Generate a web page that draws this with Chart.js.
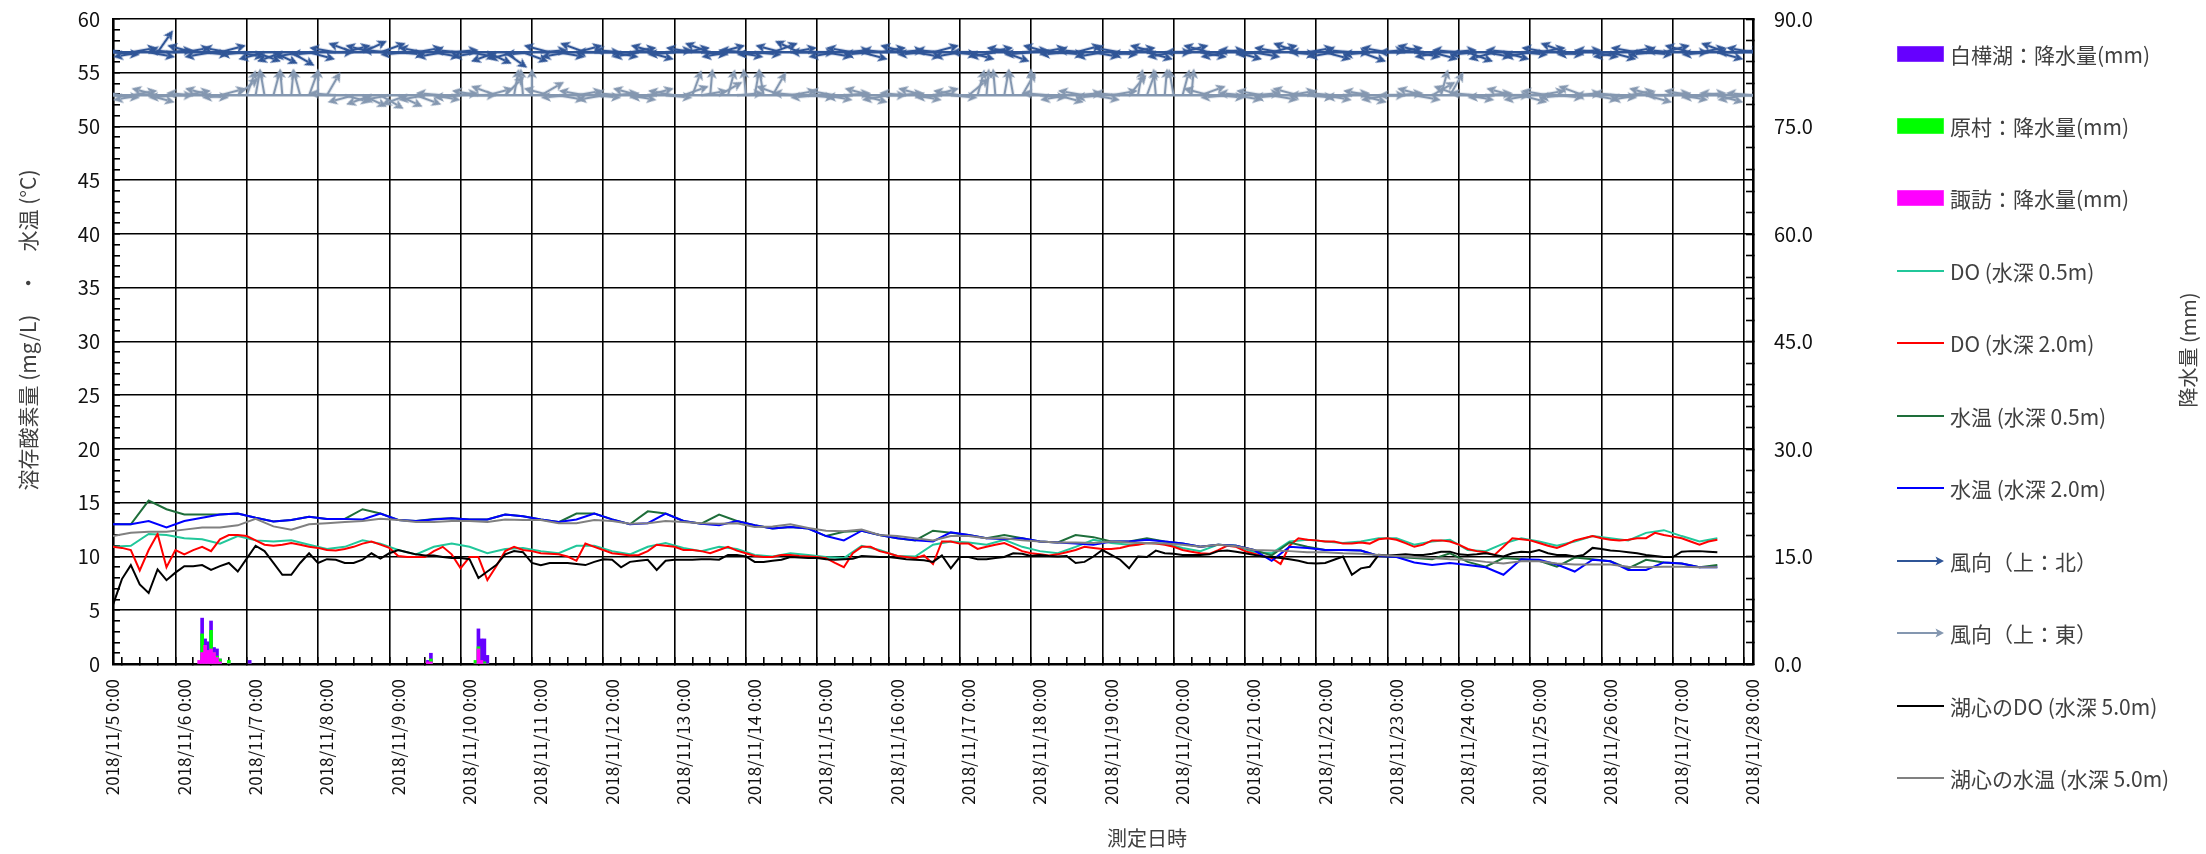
<!DOCTYPE html>
<html lang="ja">
<head>
<meta charset="utf-8">
<script src="https://cdn.jsdelivr.net/npm/chart.js@4.4.1/dist/chart.umd.min.js"></script>
<style>
  html, body { margin: 0; padding: 0; background: #fff; }
  #wrap { position: relative; width: 2206px; height: 854px; }
  #legend { position: absolute; left: 1897px; top: 0; font-family: "Noto Sans CJK JP", sans-serif; font-size: 21px; color: #404040; }
  .item { position: absolute; left: 0; height: 30px; display: flex; align-items: center; white-space: nowrap; }
  .item svg { margin-right: 6px; }
</style>
</head>
<body>
<div id="wrap">
  <canvas id="chart" width="2206" height="854"></canvas>
  <div id="legend"></div>
</div>
<script>
// x軸ラベル (1日ごと)
const dayLabels = ['2018/11/5 0:00', '2018/11/6 0:00', '2018/11/7 0:00', '2018/11/8 0:00', '2018/11/9 0:00',
  '2018/11/10 0:00', '2018/11/11 0:00', '2018/11/12 0:00', '2018/11/13 0:00', '2018/11/14 0:00',
  '2018/11/15 0:00', '2018/11/16 0:00', '2018/11/17 0:00', '2018/11/18 0:00', '2018/11/19 0:00',
  '2018/11/20 0:00', '2018/11/21 0:00', '2018/11/22 0:00', '2018/11/23 0:00', '2018/11/24 0:00',
  '2018/11/25 0:00', '2018/11/26 0:00', '2018/11/27 0:00', '2018/11/28 0:00'];

const xTitle = '測定日時';
const yTitle = '溶存酸素量 (mg/L)　・　水温 (°C)';
const y2Title = '降水量 (mm)';

// 降水量 (時間 = 11/5 0:00からの経過時間)
const rainHours = [29, 30, 31, 32, 33, 34, 35, 36, 39, 46, 106, 107, 122, 123, 124, 125, 126];
const rainShirakabako = [0, 6.4, 3.5, 3.1, 6.0, 2.3, 2.1, 0.7, 0, 0.5, 0.5, 1.5, 0, 4.9, 3.5, 3.5, 1.2];
const rainHaramura = [0, 4.2, 2.6, 1.0, 4.7, 1.6, 1.1, 0.7, 0.5, 0, 0, 0.7, 0.5, 2.4, 0.3, 0.3, 0];
const rainSuwa = [0.5, 1.6, 2.6, 1.9, 2.1, 1.6, 0.9, 0.3, 0, 0, 0.3, 0.3, 0, 2.1, 0.5, 0, 0];

// 6時間ごと
const doSurf = [10.9, 11.0, 12.1, 12.0, 11.7, 11.6, 11.2, 11.9, 11.5, 11.4, 11.5, 11.1, 10.7, 10.9, 11.5, 11.2,
  10.6, 10.2, 10.9, 11.2, 10.9, 10.3, 10.7, 10.8, 10.5, 10.3, 11.0, 11.0, 10.5, 10.2, 10.9, 11.25,
  10.8, 10.5, 10.9, 10.7, 10.15, 10.0, 10.3, 10.15, 9.95, 9.85, 11.0, 10.6, 10.05, 10.0, 11.1, 11.4,
  11.3, 11.1, 11.55, 10.9, 10.5, 10.3, 10.9, 11.55, 11.25, 11.1, 11.25, 11.2, 10.8, 10.5, 11.1, 11.0,
  10.4, 10.3, 11.4, 11.55, 11.4, 11.25, 11.4, 11.7, 11.7, 11.1, 11.4, 11.55, 10.6, 10.5, 11.2, 11.7,
  11.4, 11.0, 11.4, 11.9, 11.7, 11.5, 12.2, 12.45, 11.9, 11.4, 11.7];

const tempSurf = [13.0, 13.0, 15.2, 14.4, 13.9, 13.9, 13.9, 14.0, 13.6, 13.25, 13.4, 13.7, 13.5, 13.5, 14.4, 14.0,
  13.4, 13.3, 13.5, 13.55, 13.45, 13.45, 13.9, 13.75, 13.45, 13.2, 14.0, 14.0, 13.45, 13.0, 14.2, 14.0,
  13.3, 13.05, 13.9, 13.3, 12.9, 12.6, 12.75, 12.6, 11.9, 12.3, 12.4, 12.0, 11.7, 11.5, 12.4, 12.2,
  12.0, 11.7, 12.0, 11.7, 11.4, 11.3, 12.0, 11.8, 11.4, 11.4, 11.7, 11.4, 11.2, 10.9, 11.1, 11.0,
  10.6, 10.1, 11.3, 10.9, 10.6, 10.6, 10.55, 10.05, 9.95, 9.85, 9.75, 10.3, 9.5, 9.05, 9.85, 9.75,
  9.6, 9.05, 9.9, 9.75, 9.55, 8.9, 9.7, 9.45, 9.35, 9.0, 9.2];

const temp2m = [13.0, 13.0, 13.3, 12.7, 13.3, 13.6, 13.9, 14.0, 13.6, 13.25, 13.4, 13.7, 13.5, 13.5, 13.45, 14.0,
  13.4, 13.3, 13.45, 13.55, 13.45, 13.45, 13.9, 13.75, 13.45, 13.2, 13.45, 14.0, 13.45, 13.0, 13.1, 14.0,
  13.3, 13.05, 12.9, 13.3, 12.9, 12.6, 12.75, 12.6, 11.9, 11.5, 12.4, 12.0, 11.7, 11.5, 11.4, 12.25,
  12.0, 11.7, 11.6, 11.7, 11.4, 11.3, 11.2, 11.1, 11.4, 11.4, 11.55, 11.4, 11.2, 10.9, 11.1, 11.0,
  10.6, 9.6, 10.9, 10.8, 10.6, 10.6, 10.55, 10.05, 9.95, 9.45, 9.2, 9.4, 9.2, 9.0, 8.3, 9.75,
  9.7, 9.25, 8.6, 9.7, 9.55, 8.75, 8.75, 9.45, 9.35, 9.0, 9.0];

const tempCenter = [11.9, 12.2, 12.3, 12.3, 12.5, 12.7, 12.7, 12.9, 13.5, 12.8, 12.5, 13.0, 13.1, 13.2, 13.3, 13.5,
  13.4, 13.2, 13.2, 13.3, 13.3, 13.2, 13.45, 13.4, 13.4, 13.1, 13.1, 13.4, 13.3, 13.05, 13.1, 13.3,
  13.2, 13.1, 13.05, 13.1, 12.75, 12.8, 13.0, 12.65, 12.4, 12.35, 12.5, 12.0, 11.9, 11.7, 11.5, 11.9,
  11.9, 11.7, 11.7, 11.5, 11.4, 11.3, 11.3, 11.25, 11.4, 11.3, 11.25, 11.2, 11.1, 10.9, 11.1, 10.95,
  10.6, 10.55, 10.5, 10.4, 10.4, 10.3, 10.25, 10.15, 10.05, 9.95, 9.85, 9.75, 9.7, 9.5, 9.35, 9.55,
  9.55, 9.35, 9.25, 9.25, 9.25, 9.05, 9.0, 9.05, 9.05, 9.0, 9.0];

// 3時間ごと
const do2m = [10.9, 10.8, 10.6, 8.7, 10.6, 12.1, 9.0, 10.6, 10.2, 10.6, 10.9, 10.5, 11.6, 12.0, 12.0, 11.9,
  11.5, 11.1, 11.0, 11.1, 11.25, 11.1, 10.9, 10.8, 10.6, 10.55, 10.7, 10.9, 11.2, 11.4, 11.1, 10.8,
  10.05, 9.95, 9.95, 9.95, 10.5, 10.9, 10.2, 8.9, 9.95, 9.95, 7.8, 9.1, 10.5, 10.9, 10.6, 10.5,
  10.3, 10.25, 10.2, 10.0, 9.6, 11.2, 10.9, 10.6, 10.3, 10.2, 10.1, 10.15, 10.5, 11.1, 11.0, 10.9,
  10.6, 10.6, 10.5, 10.3, 10.6, 10.9, 10.55, 10.3, 10.05, 9.95, 9.95, 10.15, 10.15, 10.05, 10.0, 9.95,
  9.85, 9.4, 9.0, 10.3, 10.9, 10.9, 10.5, 10.3, 10.05, 9.95, 9.85, 10.1, 9.3, 11.4, 11.4, 11.2,
  11.2, 10.7, 10.9, 11.1, 11.25, 10.9, 10.5, 10.3, 10.2, 10.1, 10.2, 10.4, 10.6, 10.9, 10.8, 10.7,
  10.7, 10.8, 11.0, 11.1, 11.25, 11.2, 11.1, 10.9, 10.6, 10.45, 10.3, 10.25, 10.6, 11.0, 10.9, 10.5,
  10.25, 10.05, 9.85, 9.3, 11.0, 11.7, 11.55, 11.5, 11.4, 11.4, 11.2, 11.2, 11.3, 11.2, 11.6, 11.7,
  11.55, 11.25, 10.9, 11.1, 11.5, 11.5, 11.4, 11.1, 10.7, 10.5, 10.4, 10.15, 10.9, 11.7, 11.6, 11.5,
  11.25, 11.0, 10.8, 11.1, 11.5, 11.7, 11.9, 11.7, 11.55, 11.5, 11.55, 11.7, 11.7, 12.2, 12.0, 11.85,
  11.7, 11.4, 11.1, 11.4, 11.55];

const doCenter = [5.5, 7.9, 9.2, 7.4, 6.6, 8.8, 7.8, 8.5, 9.1, 9.1, 9.2, 8.75, 9.1, 9.4, 8.6, 9.8,
  11.0, 10.5, 9.4, 8.3, 8.3, 9.4, 10.3, 9.4, 9.75, 9.7, 9.4, 9.4, 9.7, 10.3, 9.8, 10.3,
  10.6, 10.4, 10.2, 10.1, 10.1, 9.95, 9.85, 9.85, 9.75, 8.0, 8.6, 9.2, 10.2, 10.5, 10.4, 9.4,
  9.2, 9.4, 9.4, 9.4, 9.3, 9.2, 9.5, 9.75, 9.7, 9.0, 9.5, 9.6, 9.7, 8.75, 9.6, 9.7,
  9.7, 9.7, 9.75, 9.75, 9.7, 10.15, 10.15, 10.0, 9.5, 9.5, 9.6, 9.7, 9.95, 9.9, 9.85, 9.85,
  9.75, 9.7, 9.75, 9.8, 10.05, 10.0, 9.95, 9.95, 9.85, 9.75, 9.7, 9.65, 9.5, 10.1, 8.9, 9.95,
  9.95, 9.75, 9.75, 9.85, 9.95, 10.3, 10.25, 10.05, 10.15, 10.05, 10.0, 10.05, 9.4, 9.5, 10.0, 10.6,
  10.15, 9.7, 8.9, 10.0, 9.95, 10.55, 10.3, 10.25, 10.15, 10.15, 10.15, 10.2, 10.5, 10.55, 10.45, 10.3,
  10.15, 10.0, 9.95, 9.85, 9.75, 9.6, 9.4, 9.35, 9.4, 9.7, 10.0, 8.3, 8.9, 9.05, 10.15, 10.1,
  10.15, 10.2, 10.15, 10.15, 10.25, 10.45, 10.45, 10.2, 10.15, 10.2, 10.3, 10.15, 10.0, 10.3, 10.45, 10.4,
  10.6, 10.3, 10.15, 10.15, 10.0, 10.15, 10.8, 10.7, 10.55, 10.5, 10.4, 10.3, 10.15, 10.05, 9.95, 9.95,
  10.45, 10.5, 10.5, 10.45, 10.4];

// 風向 (3時間ごと, 矢印の向き[度]: 0=右, -90=上, 180=左)
const windNorthLevel = 56.9;
const windEastLevel = 52.9;
const windNorthAngle = [5, 190, -10, 170, 10, -55, -5, 185, -10, 195, 5, 170, -15, 190, 10, 175,
  20, 165, 25, 160, 30, 170, 15, 175, 0, 190, -15, 200, -25, 195, -20, 185,
  5, 175, -10, 190, 10, 170, -5, 185, 10, 170, 25, 160, 35, 165, 20, 175,
  -5, 195, 10, 170, -15, 200, 0, 180, 10, 185, -10, 170, 15, 195, -5, 175,
  -10, 190, 5, 200, -15, 170, 10, 185, 5, 175, -20, 195, -10, 205, 0, 180,
  10, 170, -5, 190, 15, 175, -10, 185, -5, 195, 10, 175, -15, 185, 5, 170,
  15, 180, -10, 170, 20, 190, -5, 175, -10, 195, 5, 175, -15, 185, 10, 170,
  5, 190, -10, 175, 15, 195, 0, 170, -15, 180, 10, 195, -5, 170, 15, 185,
  10, 175, -15, 190, 5, 200, -10, 180, 15, 170, 0, 185, 20, 175, -5, 190,
  -10, 180, 10, 195, 15, 170, -5, 185, 20, 175, 10, 165, 15, 185, 5, 170,
  -10, 190, 5, 200, -5, 175, 10, 185, 15, 170, -10, 190, 5, 175, -15, 185,
  0, 195, -10, 175, 15, 200, -5, 180, 190];

const windEastAngle = [5, 190, -10, 170, 15, 195, 0, 175, -10, 185, 5, 195, -15, 175, -40, -70,
  -80, -100, -75, -95, -85, -105, -70, -90, -60, 185, 15, 165, 25, 160, 30, 170,
  25, 160, 20, 170, 10, 185, -5, 175, 0, 190, -15, 200, -45, -80, -95, -90,
  -30, 195, 10, 175, -10, 190, 5, 170, -5, 185, 10, 195, -15, 175, 5, 190,
  -20, -70, -10, -85, -30, -75, -5, -95, -80, -100, -60, 200, -10, 185, 5, 175,
  10, 190, -5, 175, 15, 195, 0, 170, -5, 185, 10, 195, -15, 175, 5, 190,
  -40, -75, -85, -95, -80, -100, -60, -90, 5, 185, 15, 170, -5, 190, 10, 175,
  -10, 185, -50, -80, -70, -95, -85, -100, -75, -85, -20, 195, 5, 175, 10, 185,
  -5, 190, 10, 175, -10, 195, 5, 180, 10, 185, -5, 175, 15, 190, 0, 170,
  -5, 180, 10, 195, -30, -75, -60, 200, 10, 185, -5, 175, 0, 195, 15, 170,
  -10, 190, 5, 175, -5, 200, 10, 180, 5, 185, -10, 170, 15, 195, -5, 180,
  10, 190, -5, 175, 15, 185, 0, 170, 185];

// 値の並び -> {x: 日数, y}
function series(values, stepDays) {
  return values.map((v, i) => ({ x: i * stepDays, y: v }));
}
function rain(values) {
  return rainHours.map((h, i) => ({ x: h / 24, y: values[i] }));
}

// 矢印マーカー (点の位置が矢印の根元)
function arrowImage(color) {
  const c = document.createElement('canvas');
  c.width = 56;
  c.height = 14;
  const g = c.getContext('2d');
  g.strokeStyle = color;
  g.fillStyle = color;
  g.lineWidth = 2.4;
  g.beginPath();
  g.moveTo(28, 7);
  g.lineTo(47, 7);
  g.stroke();
  g.beginPath();
  g.moveTo(55, 7);
  g.lineTo(45, 2);
  g.lineTo(47.5, 7);
  g.lineTo(45, 12);
  g.closePath();
  g.fill();
  return c;
}

function lineSet(label, data, color, order) {
  return {
    type: 'line', label: label, data: data, borderColor: color, backgroundColor: color,
    borderWidth: 2, pointRadius: 0, tension: 0, yAxisID: 'y', order: order, legendIcon: 'line'
  };
}
function windSet(label, level, angles, color, order) {
  return {
    type: 'line', label: label, data: series(angles.map(() => level), 0.125),
    borderColor: color, backgroundColor: color, borderWidth: 2.5, tension: 0,
    pointStyle: arrowImage(color), pointRadius: 1, pointRotation: angles,
    yAxisID: 'y', order: order, legendIcon: 'arrow'
  };
}
function barSet(label, data, color, order) {
  return {
    type: 'bar', label: label, data: data, backgroundColor: color, borderWidth: 0,
    barThickness: 3, grouped: false, yAxisID: 'y2', order: order, legendIcon: 'bar'
  };
}

const datasets = [
  barSet('白樺湖：降水量(mm)', rain(rainShirakabako), '#6600ff', 22),
  barSet('原村：降水量(mm)', rain(rainHaramura), '#00ff00', 21),
  barSet('諏訪：降水量(mm)', rain(rainSuwa), '#ff00ff', 20),
  lineSet('DO (水深 0.5m)', series(doSurf, 0.25), '#21c79a', 10),
  lineSet('DO (水深 2.0m)', series(do2m, 0.125), '#ff0000', 9),
  lineSet('水温 (水深 0.5m)', series(tempSurf, 0.25), '#1e6e3a', 8),
  lineSet('水温 (水深 2.0m)', series(temp2m, 0.25), '#0000ff', 7),
  windSet('風向（上：北）', windNorthLevel, windNorthAngle, '#2f5597', 6),
  windSet('風向（上：東）', windEastLevel, windEastAngle, '#8497b0', 5),
  lineSet('湖心のDO (水深 5.0m)', series(doCenter, 0.125), '#000000', 4),
  lineSet('湖心の水温 (水深 5.0m)', series(tempCenter, 0.25), '#808080', 3)
];

const titlePlugin = {
  id: 'axisTitles',
  afterDraw(chart) {
    const ctx = chart.ctx;
    ctx.save();
    ctx.fillStyle = '#404040';
    ctx.font = '20px "Noto Sans CJK JP"';
    ctx.textAlign = 'center';
    ctx.textBaseline = 'middle';
    ctx.fillText(xTitle, 1147, 838);
    ctx.translate(28, 330);
    ctx.rotate(-Math.PI / 2);
    ctx.font = '21px "Noto Sans CJK JP"';
    ctx.fillText(yTitle, 0, 0);
    ctx.restore();
    ctx.save();
    ctx.fillStyle = '#404040';
    ctx.font = '20px "Noto Sans CJK JP"';
    ctx.textAlign = 'center';
    ctx.textBaseline = 'middle';
    ctx.translate(2188, 350);
    ctx.rotate(-Math.PI / 2);
    ctx.fillText(y2Title, 0, 0);
    ctx.restore();
  }
};

Chart.defaults.font.family = '"Noto Sans CJK JP", sans-serif';
Chart.defaults.color = '#111';

const gridMajor = (step) => (ctx) => (ctx.tick && Math.abs(ctx.tick.value % step) < 1e-9 ? '#000' : 'rgba(0,0,0,0)');
const fixHeight = (h) => (s) => { s.height = h; };
const fixWidth = (w) => (s) => { s.width = w; s.paddingTop = 0; s.paddingBottom = 0; };

const chart = new Chart(document.getElementById('chart'), {
  type: 'line',
  data: { datasets: datasets },
  plugins: [titlePlugin],
  options: {
    responsive: false,
    animation: false,
    layout: { padding: { top: 19, left: 0, right: 0, bottom: 0 } },
    plugins: { legend: { display: false }, tooltip: { enabled: false } },
    scales: {
      x: {
        type: 'linear', min: 0, max: 23, offset: false,
        afterFit: fixHeight(190),
        grid: { color: gridMajor(1), lineWidth: 1.6, tickLength: -7, tickColor: '#000', tickWidth: 1.6 },
        border: { color: '#000', width: 2.6 },
        ticks: {
          stepSize: 0.25, autoSkip: false, minRotation: 90, maxRotation: 90, padding: 22,
          font: { size: 17 }, color: '#111',
          callback: (v) => (Number.isInteger(v) ? dayLabels[v] : '')
        }
      },
      y: {
        position: 'left', min: 0, max: 60,
        afterFit: fixWidth(113),
        grid: { color: gridMajor(5), lineWidth: 1.6, tickLength: -7, tickColor: '#000', tickWidth: 1.6 },
        border: { color: '#000', width: 2.6 },
        ticks: {
          stepSize: 1, autoSkip: false, padding: 20, font: { size: 20 }, color: '#111',
          callback: (v) => (v % 5 === 0 ? v : '')
        }
      },
      y2: {
        position: 'right', min: 0, max: 90,
        afterFit: fixWidth(453),
        grid: { drawOnChartArea: false, tickLength: -7, tickColor: '#000', tickWidth: 1.6 },
        border: { color: '#000', width: 2.6 },
        ticks: {
          stepSize: 3, autoSkip: false, padding: 28, font: { size: 20 }, color: '#111',
          callback: (v) => (v % 15 === 0 ? v.toFixed(1) : '')
        }
      }
    }
  }
});

// 凡例 (HTML)
function legendIcon(type, color) {
  if (type === 'bar') {
    return '<svg width="47" height="16"><rect x="0.5" y="0.5" width="46" height="15" fill="' + color + '" stroke="' + color + '" stroke-opacity="0.6"/></svg>';
  }
  if (type === 'arrow') {
    return '<svg width="47" height="16"><line x1="0" y1="8" x2="42" y2="8" stroke="' + color + '" stroke-width="2"/>' +
      '<polygon points="47,8 38.5,3.5 40.5,8 38.5,12.5" fill="' + color + '"/></svg>';
  }
  return '<svg width="47" height="16"><line x1="0" y1="8" x2="47" y2="8" stroke="' + color + '" stroke-width="2"/></svg>';
}

const legendEl = document.getElementById('legend');
chart.data.datasets.forEach((ds, i) => {
  const color = ds.type === 'bar' ? ds.backgroundColor : ds.borderColor;
  const row = document.createElement('div');
  row.className = 'item';
  row.style.top = (53.5 + i * 72.45 - 15) + 'px';
  row.innerHTML = legendIcon(ds.legendIcon, color) + '<span>' + ds.label + '</span>';
  legendEl.appendChild(row);
});
</script>
</body>
</html>
